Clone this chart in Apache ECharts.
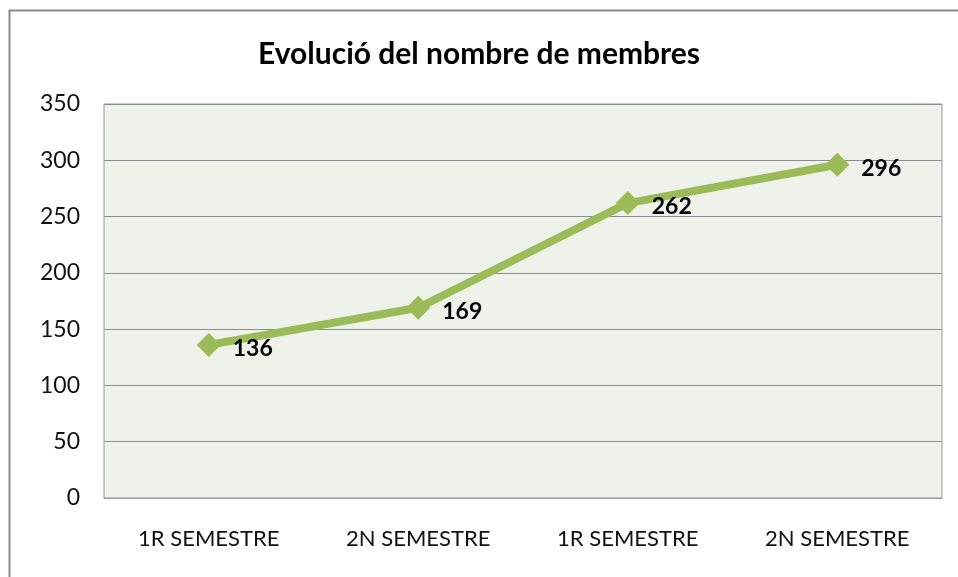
<!DOCTYPE html>
<html>
<head>
<meta charset="utf-8">
<script src="https://cdn.jsdelivr.net/npm/echarts@6/dist/echarts.min.js"></script>
<style>
  html, body { margin: 0; padding: 0; background: #fff; }
  #chart { width: 958px; height: 577px; }
</style>
</head>
<body>
<div id="chart"></div>
<script>
const titleText = 'Evolució del nombre de membres';
const categories = ['1R SEMESTRE', '2N SEMESTRE', '1R SEMESTRE', '2N SEMESTRE'];
const members = [136, 169, 262, 296];
const yTicks = [0, 50, 100, 150, 200, 250, 300, 350];

const chart = echarts.init(document.getElementById('chart'));

const option = {
  backgroundColor: '#fff',
  animation: false,
  textStyle: { fontFamily: 'Lato' },
  title: {
    text: titleText,
    left: 'center',
    top: 34,
    textStyle: { fontFamily: 'Lato', fontSize: 30, fontWeight: 'bold', color: '#000' }
  },
  graphic: [
    {
      type: 'rect',
      shape: { x: 9.5, y: 10.5, width: 1000, height: 1000 },
      style: { fill: 'none', stroke: '#8a8a8a', lineWidth: 2 },
      silent: true
    }
  ],
  grid: {
    left: 104,
    right: 16,
    top: 104,
    bottom: 79,
    show: true,
    backgroundColor: '#EFF2EA',
    borderColor: '#9a9a9a',
    borderWidth: 1
  },
  xAxis: {
    type: 'category',
    data: categories,
    boundaryGap: true,
    axisLine: { show: true, lineStyle: { color: '#9a9a9a' } },
    axisTick: { show: false },
    axisLabel: { fontFamily: 'Lato', fontSize: 22, color: '#111', margin: 30 }
  },
  yAxis: {
    type: 'value',
    min: yTicks[0],
    max: yTicks[yTicks.length - 1],
    interval: 50,
    axisLine: { show: false },
    axisTick: { show: false },
    axisLabel: { fontFamily: 'Lato', fontSize: 23, color: '#111', margin: 24 },
    splitLine: { lineStyle: { color: '#8c8c8c', width: 1 } }
  },
  series: [
    {
      type: 'line',
      data: members,
      symbol: 'diamond',
      symbolSize: 24,
      itemStyle: { color: '#9BBB59' },
      lineStyle: { color: '#9BBB59', width: 8 },
      label: {
        show: true,
        position: 'right',
        distance: 12,
        offset: [0, 4],
        fontFamily: 'Lato',
        fontSize: 23,
        fontWeight: 'bold',
        color: '#000'
      }
    }
  ]
};

chart.setOption(option);
</script>
</body>
</html>
